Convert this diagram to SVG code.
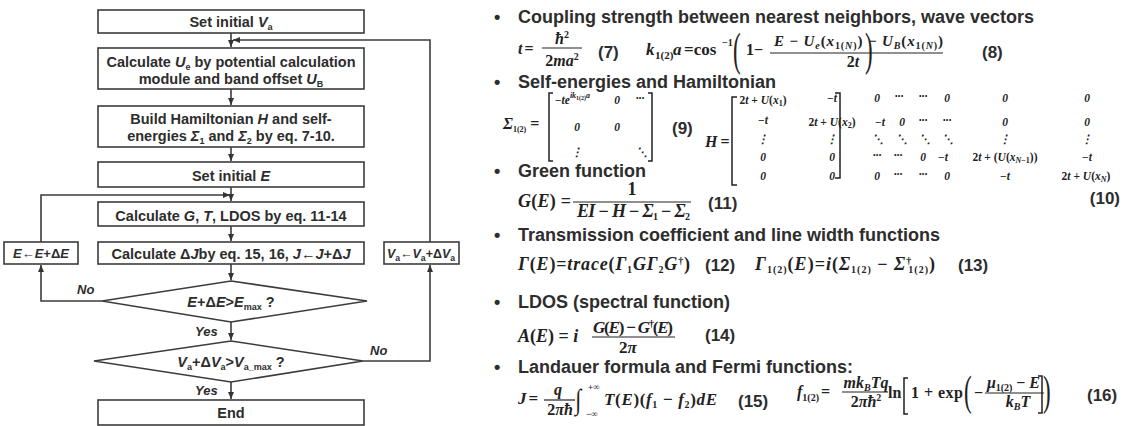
<svg xmlns="http://www.w3.org/2000/svg" width="1126" height="426" viewBox="0 0 1126 426">
<defs>
<marker id="ah" markerWidth="8" markerHeight="8" refX="7" refY="4" orient="auto" markerUnits="userSpaceOnUse">
<path d="M0,1 L7,4 L0,7 Z" fill="#333"/>
</marker>
<style>
.box{fill:#fff;stroke:#3c3c3c;stroke-width:1.6}
.ln{fill:none;stroke:#3c3c3c;stroke-width:1.6}
.ft{font-family:"Liberation Sans",Arial,sans-serif;font-weight:bold;font-size:14.5px;fill:#2d2d2d;text-anchor:middle}
.fs{font-size:13px}
.it{font-style:italic}
.sb{font-size:9px}
.lbl{font-family:"Liberation Sans",Arial,sans-serif;font-weight:bold;font-style:italic;font-size:13px;fill:#2d2d2d}
.h{font-family:"Liberation Sans",Arial,sans-serif;font-weight:bold;font-size:18px;fill:#2d2d2d}
.n{font-family:"Liberation Sans",Arial,sans-serif;font-weight:bold;font-size:17px;fill:#2d2d2d}
.m{font-family:"Liberation Serif","Times New Roman","DejaVu Serif",serif;font-style:italic;font-weight:bold;font-size:16px;fill:#222}
.mu{font-style:normal}
.ms{font-size:10px}
.mt{font-size:8px}
.mx{font-family:"Liberation Serif","Times New Roman","DejaVu Serif",serif;font-style:italic;font-weight:bold;font-size:11.5px;fill:#222;text-anchor:middle}
.br{fill:none;stroke:#222;stroke-width:1.5}
.fr{stroke:#222;stroke-width:1.2}
.bp{font-family:"Liberation Serif","Times New Roman",serif;font-size:46px;fill:#222}
</style>
</defs>
<rect width="1126" height="426" fill="#fff"/>

<!-- Flowchart nodes -->
<g id="n-set-va">
<rect class="box" x="98" y="10" width="266" height="23"/>
<text class="ft" x="231" y="27">Set initial <tspan class="it">V</tspan><tspan class="sb" dy="3">a</tspan></text>
</g>
<g id="n-calc-ue">
<rect class="box" x="98" y="48" width="266" height="41"/>
<text class="ft" x="231" y="67">Calculate <tspan class="it">U</tspan><tspan class="sb" dy="3">e</tspan><tspan dy="-3"> by potential calculation</tspan></text>
<text class="ft" x="231" y="84">module and band offset <tspan class="it">U</tspan><tspan class="sb" dy="3">B</tspan></text>
</g>
<g id="n-build-h">
<rect class="box" x="98" y="106" width="266" height="41"/>
<text class="ft" x="231" y="124">Build Hamiltonian <tspan class="it">H</tspan> and self-</text>
<text class="ft" x="231" y="141">energies <tspan class="it">Σ</tspan><tspan class="sb" dy="3">1</tspan><tspan dy="-3"> and </tspan><tspan class="it">Σ</tspan><tspan class="sb" dy="3">2</tspan><tspan dy="-3"> by eq. 7-10.</tspan></text>
</g>
<g id="n-set-e">
<rect class="box" x="98" y="162" width="266" height="25"/>
<text class="ft" x="231" y="181">Set initial <tspan class="it">E</tspan></text>
</g>
<g id="n-calc-g">
<rect class="box" x="98" y="202" width="266" height="24"/>
<text class="ft" x="231" y="221">Calculate <tspan class="it">G</tspan>, <tspan class="it">T</tspan>, LDOS by eq. 11-14</text>
</g>
<g id="n-calc-dj">
<rect class="box" x="98" y="242" width="266" height="22"/>
<text class="ft" x="231" y="259">Calculate Δ<tspan class="it">J</tspan>by eq. 15, 16, <tspan class="it">J</tspan>←<tspan class="it">J</tspan>+Δ<tspan class="it">J</tspan></text>
</g>
<g id="n-inc-e">
<rect class="box" x="4" y="242" width="74" height="22"/>
<text class="ft fs" x="41" y="258"><tspan class="it">E</tspan>←<tspan class="it">E</tspan>+Δ<tspan class="it">E</tspan></text>
</g>
<g id="n-inc-va">
<rect class="box" x="384" y="242" width="75" height="22"/>
<text class="ft fs" x="421" y="258" textLength="68" lengthAdjust="spacingAndGlyphs"><tspan class="it">V</tspan><tspan class="sb" dy="3">a</tspan><tspan dy="-3">←</tspan><tspan class="it">V</tspan><tspan class="sb" dy="3">a</tspan><tspan dy="-3">+Δ</tspan><tspan class="it">V</tspan><tspan class="sb" dy="3">a</tspan></text>
</g>
<g id="n-dec-e">
<polygon class="box" points="231,281 367,301 231,322 102,301"/>
<text class="ft" x="231" y="307"><tspan class="it">E</tspan>+Δ<tspan class="it">E</tspan>&gt;<tspan class="it">E</tspan><tspan class="sb" dy="3">max</tspan><tspan dy="-3"> ?</tspan></text>
</g>
<g id="n-dec-va">
<polygon class="box" points="231,341 363,361 231,382 94,361"/>
<text class="ft" x="231" y="367"><tspan class="it">V</tspan><tspan class="sb" dy="3">a</tspan><tspan dy="-3">+Δ</tspan><tspan class="it">V</tspan><tspan class="sb" dy="3">a</tspan><tspan dy="-3">&gt;</tspan><tspan class="it">V</tspan><tspan class="sb" dy="3">a_max</tspan><tspan dy="-3"> ?</tspan></text>
</g>
<g id="n-end">
<rect class="box" x="98" y="400" width="266" height="25"/>
<text class="ft" x="231" y="418">End</text>
</g>

<!-- Connectors -->
<g id="connectors">
<path class="ln" d="M231,33 V47" marker-end="url(#ah)"/>
<path class="ln" d="M231,89 V105" marker-end="url(#ah)"/>
<path class="ln" d="M231,147 V161" marker-end="url(#ah)"/>
<path class="ln" d="M231,187 V201" marker-end="url(#ah)"/>
<path class="ln" d="M231,226 V241" marker-end="url(#ah)"/>
<path class="ln" d="M231,264 V280" marker-end="url(#ah)"/>
<path class="ln" d="M231,322 V340" marker-end="url(#ah)"/>
<path class="ln" d="M231,382 V399" marker-end="url(#ah)"/>
<path class="ln" d="M102,301 H41 V265" marker-end="url(#ah)"/>
<path class="ln" d="M41,242 V195 H230" marker-end="url(#ah)"/>
<path class="ln" d="M363,361 H430 V265" marker-end="url(#ah)"/>
<path class="ln" d="M430,242 V40 H233" marker-end="url(#ah)"/>
<text class="lbl" x="77" y="294">No</text>
<text class="lbl" x="195" y="336">Yes</text>
<text class="lbl" x="370" y="355">No</text>
<text class="lbl" x="195" y="395">Yes</text>
</g>

<!-- Right panel: equations -->
<g id="equations">
<!-- Heading 1 -->
<text class="h" x="494" y="23">•</text>
<text class="h" x="518" y="23">Coupling strength between nearest neighbors, wave vectors</text>
<!-- eq 7 -->
<text class="m" x="518" y="54">t<tspan class="mu" dx="2">=</tspan></text>
<text class="m" x="562" y="44" text-anchor="middle">ħ<tspan class="mu ms" dy="-6">2</tspan></text>
<line class="fr" x1="542" y1="48" x2="582" y2="48"/>
<text class="m" x="562" y="66" text-anchor="middle"><tspan class="mu">2</tspan>ma<tspan class="mu ms" dy="-6">2</tspan></text>
<text class="n" x="598" y="58">(7)</text>
<!-- eq 8 -->
<text class="m" x="646" y="55" style="font-size:17px">k</text>
<text class="m mu" x="655" y="59" style="font-size:11px">1(2)</text>
<text class="m" x="673" y="55" style="font-size:17px">a</text>
<text class="m mu" x="684" y="55" style="font-size:17px">=cos</text>
<text class="m mu" x="722" y="46" style="font-size:10px">−1</text>
<text class="bp" transform="translate(733,65) scale(0.5,1)">(</text>
<text class="m" x="746" y="55"><tspan class="mu">1−</tspan></text>
<text class="m" x="774" y="46" style="font-size:15px" textLength="169" lengthAdjust="spacing">E<tspan class="mu"> − </tspan>U<tspan class="ms" dy="3">e</tspan><tspan class="mu" dy="-3">(</tspan>x<tspan class="mu ms" dy="3">1(</tspan><tspan class="ms">N</tspan><tspan class="mu ms">)</tspan><tspan class="mu" dy="-3">) − </tspan>U<tspan class="ms" dy="3">B</tspan><tspan class="mu" dy="-3">(</tspan>x<tspan class="mu ms" dy="3">1(</tspan><tspan class="ms">N</tspan><tspan class="mu ms">)</tspan><tspan class="mu" dy="-3">)</tspan></text>
<line class="fr" x1="770" y1="53" x2="943" y2="53"/>
<text class="m" x="853" y="67" text-anchor="middle"><tspan class="mu">2</tspan>t</text>
<text class="bp" transform="translate(865,65) scale(0.5,1)">)</text>
<text class="n" x="982" y="58">(8)</text>

<!-- Heading 2 -->
<text class="h" x="494" y="88">•</text>
<text class="h" x="518" y="88">Self-energies and Hamiltonian</text>
<!-- eq 9 -->
<text class="m" x="503" y="129">Σ<tspan class="mu mt" dy="3">1(2)</tspan><tspan class="mu" dy="-3" dx="4">=</tspan></text>
<path class="br" d="M553,93 H549 V161 H553"/>
<path class="br" d="M648,93 H652 V161 H648"/>
<text class="mx" x="555" y="104" style="text-anchor:start"><tspan class="mu">−</tspan>te<tspan class="mt" dy="-6">ik<tspan font-size="6" class="mu" dy="2">1(2)</tspan><tspan dy="-2">a</tspan></tspan></text>
<text class="mx" x="617" y="104">0</text>
<text class="mx" x="640" y="102">···</text>
<text class="mx" x="577" y="131">0</text>
<text class="mx" x="617" y="131">0</text>
<text class="mx" x="577" y="156">⋮</text>
<text class="mx" x="642" y="156">⋱</text>
<text class="n" x="672" y="134">(9)</text>

<!-- eq 10: H matrix -->
<text class="m" x="705" y="147">H<tspan class="mu" dx="3">=</tspan></text>
<path class="br" d="M737,97 H732 V185 H737"/>
<path class="br" d="M835,93 H840 V178 H835"/>
<!-- row 1 -->
<text class="mx" x="763" y="104"><tspan class="mu">2</tspan>t<tspan class="mu"> + </tspan>U<tspan class="mu">(</tspan>x<tspan class="mu mt" dy="2">1</tspan><tspan class="mu" dy="-2">)</tspan></text>
<text class="mx" x="832" y="102"><tspan class="mu">−</tspan>t</text>
<text class="mx" x="877" y="102">0</text>
<text class="mx" x="899" y="100">···</text>
<text class="mx" x="923" y="100">···</text>
<text class="mx" x="947" y="102">0</text>
<text class="mx" x="1005" y="102">0</text>
<text class="mx" x="1087" y="102">0</text>
<!-- row 2 -->
<text class="mx" x="763" y="124"><tspan class="mu">−</tspan>t</text>
<text class="mx" x="832" y="126"><tspan class="mu">2</tspan>t<tspan class="mu"> + </tspan>U<tspan class="mu">(</tspan>x<tspan class="mu mt" dy="2">2</tspan><tspan class="mu" dy="-2">)</tspan></text>
<text class="mx" x="880" y="126"><tspan class="mu">−</tspan>t</text>
<text class="mx" x="902" y="126">0</text>
<text class="mx" x="923" y="124">···</text>
<text class="mx" x="947" y="124">···</text>
<text class="mx" x="1005" y="126">0</text>
<text class="mx" x="1087" y="126">0</text>
<!-- row 3 -->
<text class="mx" x="763" y="143">⋮</text>
<text class="mx" x="832" y="143">⋮</text>
<text class="mx" x="878" y="143">⋱</text>
<text class="mx" x="902" y="143">⋱</text>
<text class="mx" x="925" y="143">⋱</text>
<text class="mx" x="948" y="143">⋱</text>
<text class="mx" x="1005" y="143">⋮</text>
<text class="mx" x="1087" y="143">⋮</text>
<!-- row 4 -->
<text class="mx" x="763" y="161">0</text>
<text class="mx" x="832" y="161">0</text>
<text class="mx" x="877" y="159">···</text>
<text class="mx" x="898" y="159">···</text>
<text class="mx" x="923" y="161">0</text>
<text class="mx" x="943" y="161"><tspan class="mu">−</tspan>t</text>
<text class="mx" x="1005" y="161"><tspan class="mu">2</tspan>t<tspan class="mu"> + (</tspan>U<tspan class="mu">(</tspan>x<tspan class="mt" dy="2">N</tspan><tspan class="mu mt">−1</tspan><tspan class="mu" dy="-2">))</tspan></text>
<text class="mx" x="1087" y="161"><tspan class="mu">−</tspan>t</text>
<!-- row 5 -->
<text class="mx" x="763" y="180">0</text>
<text class="mx" x="832" y="180">0</text>
<text class="mx" x="877" y="180">0</text>
<text class="mx" x="898" y="178">···</text>
<text class="mx" x="923" y="178">···</text>
<text class="mx" x="947" y="180">0</text>
<text class="mx" x="1005" y="180"><tspan class="mu">−</tspan>t</text>
<text class="mx" x="1086" y="180"><tspan class="mu">2</tspan>t<tspan class="mu"> + </tspan>U<tspan class="mu">(</tspan>x<tspan class="mt" dy="2">N</tspan><tspan class="mu" dy="-2">)</tspan></text>
<text class="n" x="1120" y="204" text-anchor="end">(10)</text>

<!-- Heading 3 -->
<text class="h" x="494" y="177">•</text>
<text class="h" x="518" y="177">Green function</text>
<!-- eq 11 -->
<text class="m" x="518" y="207" style="font-size:18px" textLength="53" lengthAdjust="spacing">G<tspan class="mu">(</tspan>E<tspan class="mu">) =</tspan></text>
<text class="m" x="632" y="195" text-anchor="middle" style="font-size:18px"><tspan class="mu">1</tspan></text>
<line class="fr" x1="573" y1="202" x2="691" y2="202"/>
<text class="m" x="577" y="217" style="font-size:18px" textLength="113" lengthAdjust="spacing">EI<tspan class="mu"> − </tspan>H<tspan class="mu"> − </tspan>Σ<tspan class="mu ms" dy="3">1</tspan><tspan class="mu" dy="-3"> − </tspan>Σ<tspan class="mu ms" dy="3">2</tspan></text>
<text class="n" x="708" y="209">(11)</text>

<!-- Heading 4 -->
<text class="h" x="494" y="241">•</text>
<text class="h" x="518" y="241">Transmission coefficient and line width functions</text>
<!-- eq 12 -->
<text class="m" x="518" y="270" style="font-size:18px" textLength="172" lengthAdjust="spacing">Γ<tspan class="mu">(</tspan>E<tspan class="mu">)</tspan><tspan class="mu">=</tspan>trace<tspan class="mu">(</tspan>Γ<tspan class="mu ms" dy="3">1</tspan><tspan dy="-3">G</tspan>Γ<tspan class="mu ms" dy="3">2</tspan><tspan dy="-3">G</tspan><tspan class="mu ms" dy="-6">†</tspan><tspan class="mu" dy="6">)</tspan></text>
<text class="n" x="705" y="271">(12)</text>
<!-- eq 13 -->
<text class="m" x="755" y="270" style="font-size:18px" textLength="180" lengthAdjust="spacing">Γ<tspan class="mu ms" dy="3">1(2)</tspan><tspan class="mu" dy="-3">(</tspan>E<tspan class="mu">)</tspan><tspan class="mu">=</tspan>i<tspan class="mu">(</tspan>Σ<tspan class="mu ms" dy="3">1(2)</tspan><tspan class="mu" dy="-3"> − </tspan>Σ<tspan class="mu ms" dy="-6">†</tspan><tspan class="mu ms" dx="-4" dy="9">1(2)</tspan><tspan class="mu" dy="-3">)</tspan></text>
<text class="n" x="958" y="271">(13)</text>

<!-- Heading 5 -->
<text class="h" x="494" y="308">•</text>
<text class="h" x="518" y="308">LDOS (spectral function)</text>
<!-- eq 14 -->
<text class="m" x="518" y="342" style="font-size:18px">A<tspan class="mu">(</tspan>E<tspan class="mu">) = </tspan>i</text>
<text class="m" x="593" y="333" style="font-size:17px" textLength="80" lengthAdjust="spacing">G<tspan class="mu">(</tspan>E<tspan class="mu">) − </tspan>G<tspan class="mu ms" dy="-6">†</tspan><tspan class="mu" dy="6">(</tspan>E<tspan class="mu">)</tspan></text>
<line class="fr" x1="592" y1="337" x2="675" y2="337"/>
<text class="m" x="628" y="353" text-anchor="middle" style="font-size:17px"><tspan class="mu">2</tspan>π</text>
<text class="n" x="705" y="341">(14)</text>

<!-- Heading 6 -->
<text class="h" x="494" y="373">•</text>
<text class="h" x="518" y="373">Landauer formula and Fermi functions:</text>
<!-- eq 15 -->
<text class="m" x="518" y="404" style="font-size:17px">J<tspan class="mu" dx="2">=</tspan></text>
<text class="m" x="558" y="395" text-anchor="middle">q</text>
<line class="fr" x1="544" y1="400" x2="575" y2="400"/>
<text class="m" x="560" y="415" text-anchor="middle"><tspan class="mu">2</tspan>πħ</text>
<text class="m" transform="translate(575,409) scale(1,1.3)" style="font-size:22px">∫</text>
<text class="m mu" x="588" y="390" style="font-size:9px">+∞</text>
<text class="m mu" x="586" y="417" style="font-size:9px">−∞</text>
<text class="m" x="604" y="405" style="font-size:17px" textLength="113" lengthAdjust="spacing">T<tspan class="mu">(</tspan>E<tspan class="mu">)(</tspan>f<tspan class="mu ms" dy="3">1</tspan><tspan class="mu" dy="-3"> − </tspan>f<tspan class="mu ms" dy="3">2</tspan><tspan class="mu" dy="-3">)</tspan>dE</text>
<text class="n" x="738" y="407">(15)</text>
<!-- eq 16 -->
<text class="m" x="797" y="397">f<tspan class="mu ms" dy="4">1(2)</tspan><tspan class="mu" dy="-4" dx="2">=</tspan></text>
<text class="m" x="866" y="388" text-anchor="middle">mk<tspan class="ms" dy="3">B</tspan><tspan dy="-3">Tq</tspan></text>
<line class="fr" x1="842" y1="392" x2="888" y2="392"/>
<text class="m" x="866" y="407" text-anchor="middle"><tspan class="mu">2</tspan>πħ<tspan class="mu ms" dy="-6">2</tspan></text>
<text class="m" x="888" y="398"><tspan class="mu">ln</tspan></text>
<path class="br" d="M908,378 H904 V414 H908"/>
<text class="m" x="911" y="398" textLength="52" lengthAdjust="spacing"><tspan class="mu">1 + exp</tspan></text>
<text class="bp" transform="translate(964,405) scale(0.5,0.9)">(</text>
<text class="m" x="974" y="398"><tspan class="mu">−</tspan></text>
<text class="m" x="987" y="388" textLength="53" lengthAdjust="spacing">μ<tspan class="mu ms" dy="3">1(2)</tspan><tspan class="mu" dy="-3"> − </tspan>E</text>
<line class="fr" x1="985" y1="393" x2="1044" y2="393"/>
<text class="m" x="1018" y="407" text-anchor="middle">k<tspan class="ms" dy="3">B</tspan><tspan dy="-3">T</tspan></text>
<path class="br" d="M1038,376 H1042 V413 H1038"/>
<text class="bp" transform="translate(1043,405) scale(0.5,0.9)">)</text>
<text class="n" x="1087" y="401">(16)</text>
</g>
</svg>
